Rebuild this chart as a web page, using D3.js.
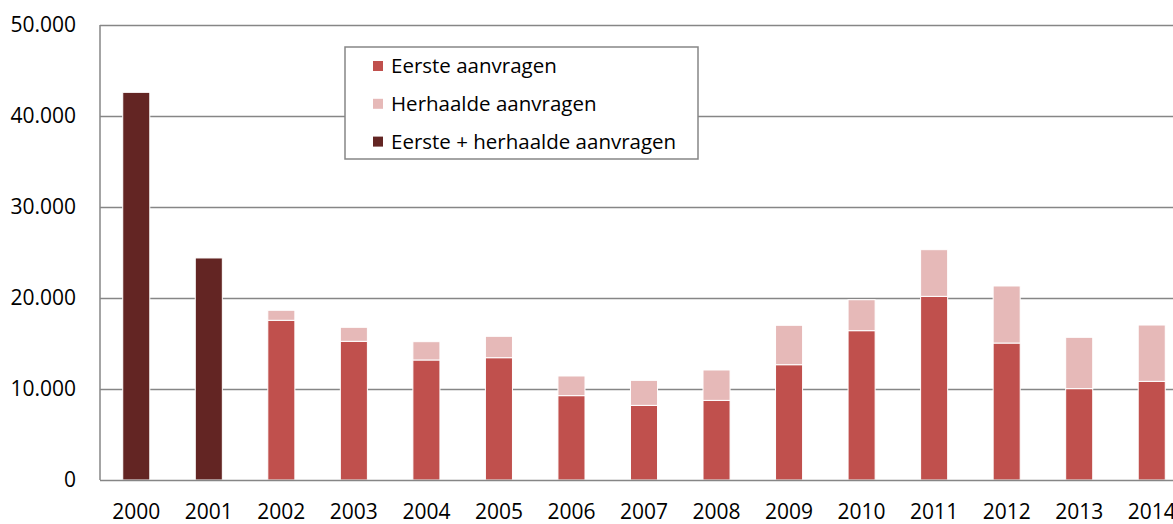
<!DOCTYPE html>
<html>
<head>
<meta charset="utf-8">
<script src="https://cdn.jsdelivr.net/npm/d3@7"></script>
<style>
  body { margin: 0; background: #fff; }
  svg { display: block; font-family: "Open Sans", sans-serif; }
</style>
</head>
<body>
<div id="chart"></div>
<script>
var years = ["2000", "2001", "2002", "2003", "2004", "2005", "2006", "2007",
             "2008", "2009", "2010", "2011", "2012", "2013", "2014"];
// Eerste aanvragen (no split for 2000 and 2001)
var eerste = [0, 0, 17550, 15240, 13190, 13440, 9270, 8200,
              8750, 12670, 16410, 20180, 15050, 10040, 10840];
// Herhaalde aanvragen
var herhaalde = [0, 0, 1100, 1540, 2010, 2350, 2160, 2750,
                 3340, 4330, 3400, 5130, 6270, 5640, 6190];
// Eerste + herhaalde aanvragen (only 2000 and 2001)
var totaal = [42600, 24400, 0, 0, 0, 0, 0, 0, 0, 0, 0, 0, 0, 0, 0];
var yTicks = [0, 10000, 20000, 30000, 40000, 50000];
var seriesNames = ["Eerste aanvragen", "Herhaalde aanvragen", "Eerste + herhaalde aanvragen"];
var seriesColors = ["#c0504d", "#e6b9b8", "#632523"];

var width = 1173, height = 524;
var margin = { top: 25, left: 100 };
var plotW = 1088, plotH = 455;

var svg = d3.select("#chart").append("svg")
    .attr("width", width)
    .attr("height", height);

var g = svg.append("g")
    .attr("transform", "translate(" + margin.left + "," + margin.top + ")");

var x = d3.scaleBand()
    .domain(years)
    .range([0, plotW])
    .paddingInner(0.627)
    .paddingOuter(0.3135);

var y = d3.scaleLinear()
    .domain([0, 50000])
    .range([plotH, 0]);

// table for the stack
var rows = years.map(function (yr, i) {
    return { year: yr, s0: eerste[i], s1: herhaalde[i], s2: totaal[i] };
});
var stacked = d3.stack().keys(["s0", "s1", "s2"])(rows);

// gridlines
g.selectAll(".grid")
    .data(yTicks.filter(function (d) { return d > 0; }))
    .enter()
    .append("line")
    .attr("x1", 0)
    .attr("x2", plotW)
    .attr("y1", function (d) { return y(d) + 0.5; })
    .attr("y2", function (d) { return y(d) + 0.5; })
    .attr("stroke", "#868686")
    .attr("stroke-width", 1.5);

// bars
var layers = g.selectAll(".layer")
    .data(stacked)
    .enter()
    .append("g")
    .attr("fill", function (d, i) { return seriesColors[i]; });

layers.selectAll("rect")
    .data(function (d) { return d.filter(function (p) { return p[1] - p[0] > 0; }); })
    .enter()
    .append("rect")
    .attr("x", function (d) { return x(d.data.year); })
    .attr("width", x.bandwidth())
    .attr("y", function (d) { return y(d[1]); })
    .attr("height", function (d) { return y(d[0]) - y(d[1]); })
    .attr("stroke", "#fff")
    .attr("stroke-width", 1);

// axes lines
g.append("line")
    .attr("x1", 0).attr("x2", 0)
    .attr("y1", 0).attr("y2", plotH)
    .attr("stroke", "#868686")
    .attr("stroke-width", 1.5);
g.append("line")
    .attr("x1", 0).attr("x2", plotW)
    .attr("y1", plotH + 0.5).attr("y2", plotH + 0.5)
    .attr("stroke", "#868686")
    .attr("stroke-width", 1.5);

// y tick labels
var fmt = function (d) { return d3.format(",")(d).replace(/,/g, "."); };
g.selectAll(".ylab")
    .data(yTicks)
    .enter()
    .append("text")
    .attr("x", -24)
    .attr("y", function (d) { return y(d); })
    .attr("dy", "0.35em")
    .attr("text-anchor", "end")
    .attr("font-size", 21)
    .attr("fill", "#000")
    .text(fmt);

// x labels
g.selectAll(".xlab")
    .data(years)
    .enter()
    .append("text")
    .attr("x", function (d) { return x(d) + x.bandwidth() / 2; })
    .attr("y", plotH + 39)
    .attr("text-anchor", "middle")
    .attr("font-size", 21)
    .attr("fill", "#000")
    .text(function (d) { return d; });

// legend
var legend = svg.append("g").attr("transform", "translate(345,47)");
legend.append("rect")
    .attr("width", 353)
    .attr("height", 112)
    .attr("fill", "#fff")
    .attr("stroke", "#868686")
    .attr("stroke-width", 1.5);

var items = legend.selectAll(".item")
    .data(seriesNames)
    .enter()
    .append("g")
    .attr("transform", function (d, i) { return "translate(28," + (19 + i * 37.8) + ")"; });
items.append("rect")
    .attr("x", 0).attr("y", -5)
    .attr("width", 10).attr("height", 10)
    .attr("fill", function (d, i) { return seriesColors[i]; });
items.append("text")
    .attr("x", 18)
    .attr("dy", "0.35em")
    .attr("font-size", 20.5)
    .attr("fill", "#000")
    .text(function (d) { return d; });
</script>
</body>
</html>
